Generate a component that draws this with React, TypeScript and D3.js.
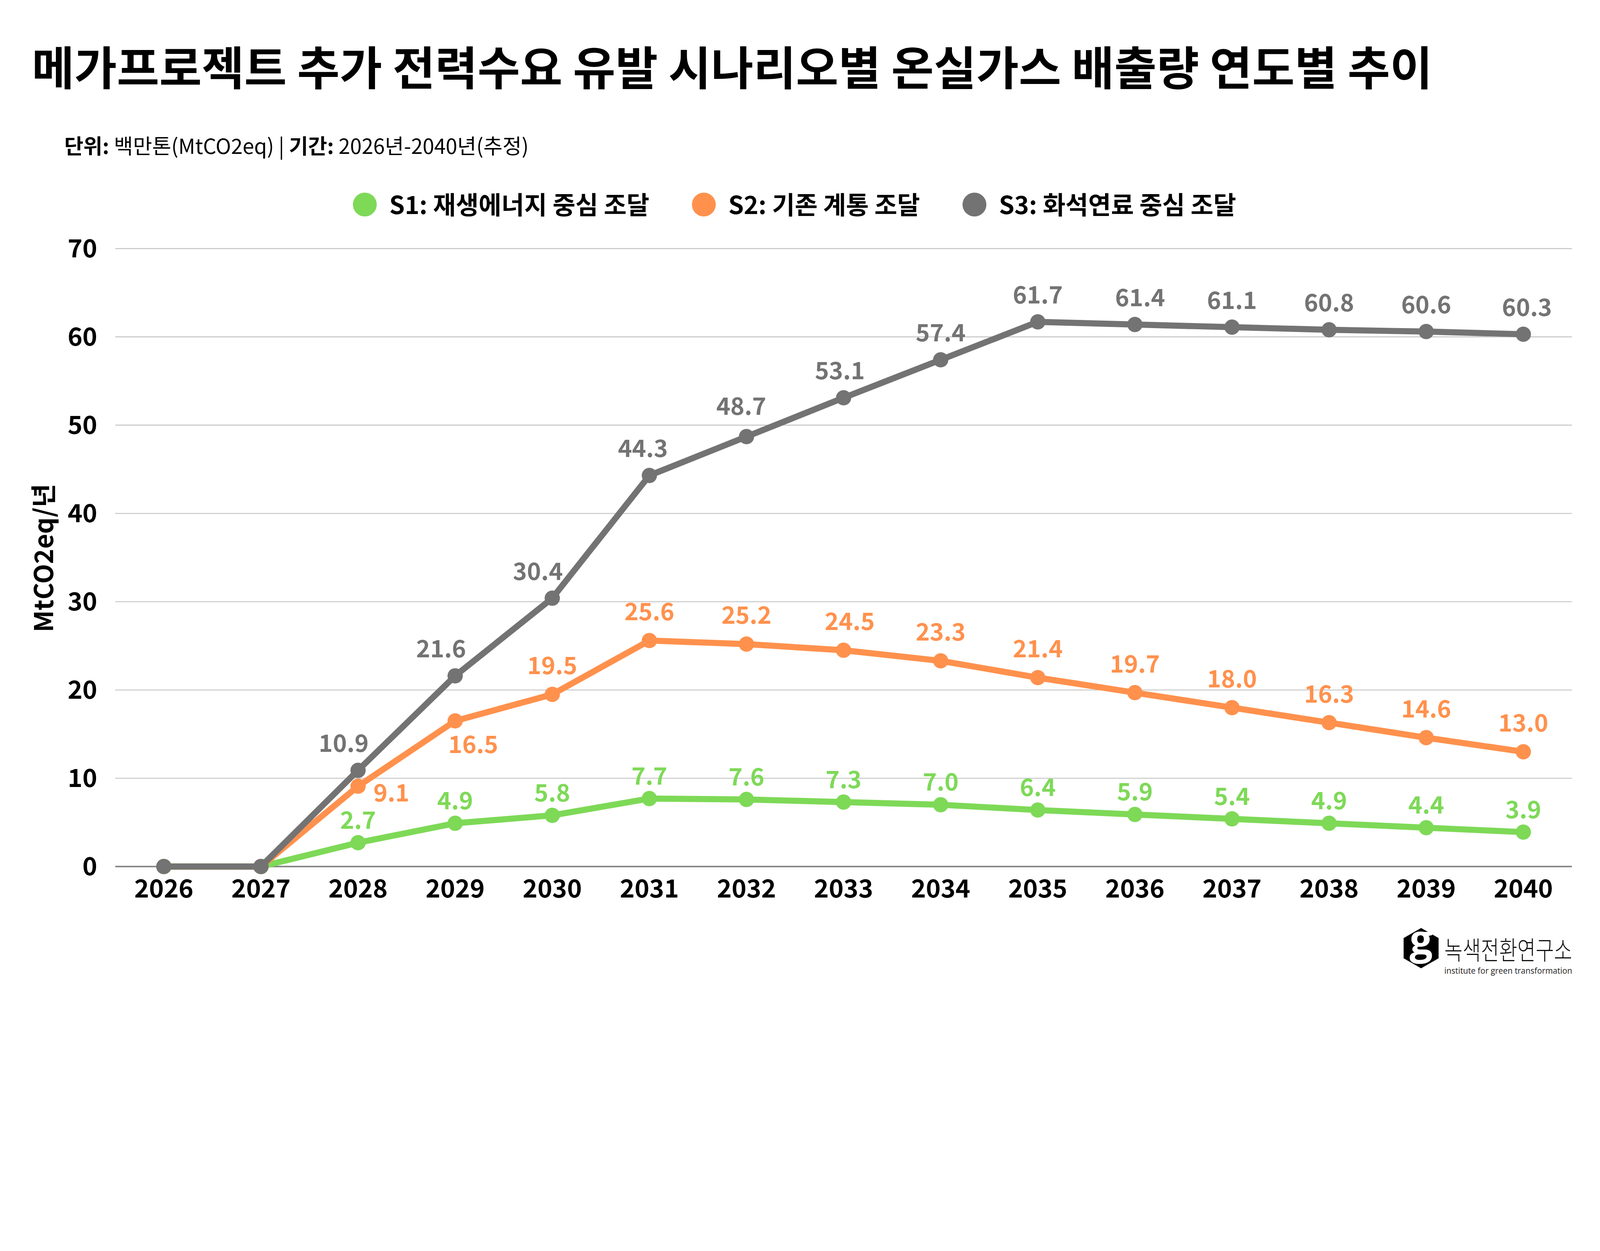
import * as d3 from "d3";

const years = ["2026", "2027", "2028", "2029", "2030", "2031", "2032", "2033", "2034", "2035", "2036", "2037", "2038", "2039", "2040"];
const s1Values = [0, 0, 2.7, 4.9, 5.8, 7.7, 7.6, 7.3, 7.0, 6.4, 5.9, 5.4, 4.9, 4.4, 3.9];
const s2Values = [0, 0, 9.1, 16.5, 19.5, 25.6, 25.2, 24.5, 23.3, 21.4, 19.7, 18.0, 16.3, 14.6, 13.0];
const s3Values = [0, 0, 10.9, 21.6, 30.4, 44.3, 48.7, 53.1, 57.4, 61.7, 61.4, 61.1, 60.8, 60.6, 60.3];
const yTicks = [0, 10, 20, 30, 40, 50, 60, 70];

const series = [
  { key: "s1", name: "S1: 재생에너지 중심 조달", values: s1Values, color: "#7ED957", labelDy: -46 },
  { key: "s2", name: "S2: 기존 계통 조달", values: s2Values, color: "#FF914D", labelDy: -66 },
  { key: "s3", name: "S3: 화석연료 중심 조달", values: s3Values, color: "#737373", labelDy: -60 }
];

// hand placed labels that sit beside or below their point
const labelNudges: Record<string, { dx: number; dy?: number }> = {
  "s3-2028": { dx: -47 },
  "s3-2029": { dx: -46 },
  "s3-2030": { dx: -47 },
  "s3-2031": { dx: -21 },
  "s3-2032": { dx: -17, dy: -72 },
  "s3-2033": { dx: -12 },
  "s3-2036": { dx: 17 },
  "s3-2040": { dx: 12 },
  "s2-2028": { dx: 109, dy: 50 },
  "s2-2029": { dx: 59, dy: 105 },
  "s2-2033": { dx: 20 }
};

const FONT = "'Noto Sans CJK KR', 'Noto Sans', sans-serif";

let measureCtx: CanvasRenderingContext2D | null = null;
function textWidth(text: string, font: string) {
  if (!measureCtx) measureCtx = document.createElement("canvas").getContext("2d");
  if (!measureCtx) return text.length * 40;
  measureCtx.font = font;
  return measureCtx.measureText(text).width;
}

export default function App() {
  const width = 5232;
  const height = 3203;
  const x = d3.scalePoint(years, [377, 5140]).padding(0.5);
  const y = d3.scaleLinear([0, 70], [2834, 813]);
  const line = d3.line<number>().x((_, i) => x(years[i]) ?? 0).y(v => y(v));

  // legend flows left to right
  const legendSize = 81;
  const legendFont = `bold ${legendSize}px ${FONT}`;
  let cursor = 1193;
  const legendItems = series.map(s => {
    const item = { ...s, cx: cursor, tx: cursor + 80 };
    cursor = item.tx + textWidth(s.name, legendFont) + 139 + 39;
    return item;
  });

  const hexR = 66;
  const hex = d3.range(6).map(i => {
    const a = (Math.PI / 3) * i - Math.PI / 2;
    return [4647 + hexR * Math.cos(a), 3101 + hexR * Math.sin(a)];
  });

  return (
    <svg
      viewBox={`0 0 ${width} ${height}`}
      preserveAspectRatio="xMinYMin meet"
      style={{ position: "absolute", left: 0, top: 0, width: "100vw", height: "auto", display: "block" }}
      fontFamily={FONT}
    >
      <rect width={width} height={height} fill="#fff" />
      <text x={104} y={278} fontSize={151} fontWeight={700} fill="#000">
        메가프로젝트 추가 전력수요 유발 시나리오별 온실가스 배출량 연도별 추이
      </text>
      <text x={210} y={503} fontSize={68} fill="#000">
        <tspan fontWeight={700}>단위:</tspan>
        <tspan fontWeight={400}> 백만톤(MtCO2eq) | </tspan>
        <tspan fontWeight={700}>기간:</tspan>
        <tspan fontWeight={400}> 2026년-2040년(추정)</tspan>
      </text>

      {legendItems.map(item => (
        <g key={item.key}>
          <circle cx={item.cx} cy={669} r={39} fill={item.color} />
          <text x={item.tx} y={700} fontSize={legendSize} fontWeight={700} fill="#000">{item.name}</text>
        </g>
      ))}

      {yTicks.map(t => (
        <g key={t}>
          <line x1={377} x2={5140} y1={y(t)} y2={y(t)} stroke={t === 0 ? "#808080" : "#c4c4c4"} strokeWidth={t === 0 ? 5 : 3} />
          <text x={318} y={y(t) + 29} fontSize={82} fontWeight={700} textAnchor="end" fill="#000">{t}</text>
        </g>
      ))}

      {years.map(yr => (
        <text key={yr} x={x(yr)} y={2935} fontSize={82} fontWeight={700} textAnchor="middle" fill="#000">{yr}</text>
      ))}

      <text transform="translate(137,1825) rotate(-90)" fontSize={84} fontWeight={700} textAnchor="middle" dominantBaseline="central" fill="#000">
        MtCO2eq/년
      </text>

      {series.map(s => (
        <g key={s.key}>
          <path d={line(s.values) ?? undefined} fill="none" stroke={s.color} strokeWidth={20} strokeLinejoin="round" />
          {s.values.map((v, i) => (
            <circle key={years[i]} cx={x(years[i])} cy={y(v)} r={25} fill={s.color} />
          ))}
        </g>
      ))}

      {series.map(s => (
        <g key={`${s.key}-labels`}>
          {s.values.map((v, i) => {
            if (v === 0) return null;
            const nudge = labelNudges[`${s.key}-${years[i]}`] ?? { dx: 0 };
            return (
              <text
                key={years[i]}
                x={(x(years[i]) ?? 0) + nudge.dx}
                y={y(v) + (nudge.dy ?? s.labelDy)}
                fontSize={78}
                fontWeight={700}
                textAnchor="middle"
                fill={s.color}
              >
                {v.toFixed(1)}
              </text>
            );
          })}
        </g>
      ))}

      <g>
        <polygon points={hex.map(p => p.join(",")).join(" ")} fill="#000" />
        <text x={4647} y={3120} fontSize={134} fontFamily="'Open Sans', sans-serif" fontWeight={700} textAnchor="middle" fill="#fff">g</text>
        <text x={4723} y={3138} fontSize={84} fontWeight={300} fill="#111" textLength={418} lengthAdjust="spacingAndGlyphs">녹색전환연구소</text>
        <text x={4723} y={3184} fontSize={27} fontFamily="'Open Sans', sans-serif" fill="#222" textLength={418} lengthAdjust="spacingAndGlyphs">institute for green transformation</text>
      </g>
    </svg>
  );
}
